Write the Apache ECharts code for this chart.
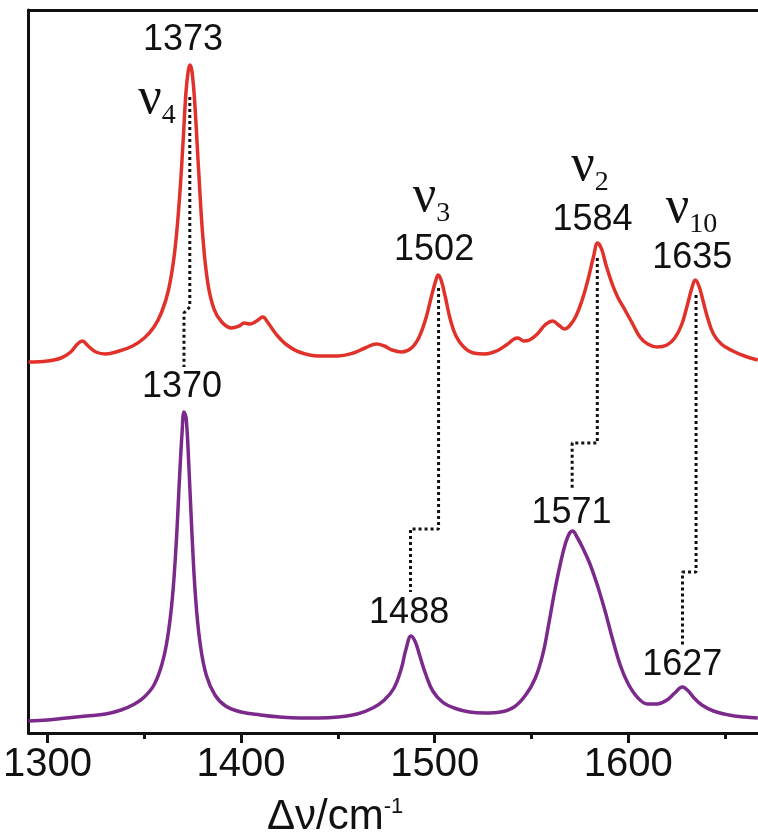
<!DOCTYPE html>
<html lang="en" style="height: 100%">
   <head>
      <meta charset="utf-8">
   </head>
   <body style="height: 100%; margin: 0">
      <div id="container" style="width: 758px; height: 838px"></div>
      <script type="text/javascript" src="https://fastly.jsdelivr.net/npm/echarts@6/dist/echarts.min.js"></script>
      <script type="text/javascript">
// Raman spectra, wavenumber (cm-1) vs intensity (a.u., red trace offset upward)
var redSpectrum = [
  [1290.2, 371], [1300, 372], [1307, 375], [1312, 381], [1315.5, 389], [1318, 392], [1321, 387],
  [1325, 381], [1330, 379], [1337, 382], [1344, 387], [1350, 395], [1355, 406], [1359, 421],
  [1362.5, 443], [1365.5, 478], [1368, 530], [1370, 590], [1371.5, 640], [1372.7, 662],
  [1373.6, 668], [1374.6, 662], [1376, 632], [1378, 565], [1380.3, 495], [1382.8, 450],
  [1386, 424], [1390, 411], [1395, 405], [1399, 407], [1401.5, 410], [1404.5, 409], [1408, 412],
  [1411.2, 416], [1414, 410], [1418, 399], [1423, 389], [1430, 381], [1440, 377], [1450, 377],
  [1458, 380], [1464, 385], [1470, 389], [1474, 387], [1478, 383], [1483, 381], [1488, 385],
  [1492, 396], [1495.5, 415], [1498.5, 438], [1500.5, 452], [1501.8, 458], [1503.3, 453],
  [1505.5, 436], [1508, 414], [1511, 397], [1515, 386], [1520, 380], [1526, 379], [1532, 382],
  [1537, 388], [1541, 394], [1543, 395], [1546, 392], [1549, 393], [1553, 399], [1557, 408],
  [1561, 412], [1564, 408], [1567, 404], [1570, 408], [1573, 417], [1576, 432], [1579, 452],
  [1582, 476], [1584.2, 490], [1586.2, 484], [1588.5, 468], [1591.5, 450], [1594.5, 436],
  [1598, 424], [1602, 410], [1606, 396], [1610, 389], [1615, 386], [1620, 388], [1624, 395],
  [1627.5, 408], [1630.5, 428], [1633, 446], [1634.6, 453], [1636.5, 447], [1638.5, 433],
  [1641, 415], [1644, 399], [1648, 389], [1654, 382], [1660, 377], [1666.9, 373]
];
var purpleSpectrum = [
  [1290.2, 12], [1300, 13], [1310, 15], [1320, 17], [1330, 19], [1338, 23], [1345, 29],
  [1350, 36], [1355, 48], [1359, 68], [1362, 95], [1364.5, 135], [1366.5, 190], [1368.2, 255],
  [1369.5, 300], [1370.5, 321], [1371.6, 315], [1373, 268], [1374.6, 200], [1376.5, 135],
  [1378.8, 90], [1382, 58], [1386.5, 38], [1392, 27], [1400, 21], [1410, 18], [1420, 16],
  [1430, 15], [1440, 15], [1450, 16], [1460, 19], [1468, 25], [1474, 33], [1479, 45],
  [1482.7, 64], [1485.2, 84], [1487.8, 97], [1490, 91], [1492.5, 76], [1495.5, 58], [1499, 42],
  [1504, 31], [1510, 25], [1518, 21], [1526, 20], [1534, 21], [1541, 26], [1547, 38], [1552, 55],
  [1556, 80], [1559, 110], [1562, 142], [1565, 170], [1567.6, 190], [1569.7, 200], [1571.3, 202],
  [1573.5, 196], [1576.5, 185], [1580, 170], [1584, 148], [1588, 122], [1592, 93], [1596, 67],
  [1600, 49], [1605, 35], [1610, 29], [1615, 29], [1620, 33], [1624, 40], [1627.9, 46],
  [1631, 42], [1634, 35], [1638, 28], [1644, 22], [1652, 18], [1660, 16], [1666.9, 15]
];
// dotted connectors between matching modes
var linkV4 = [[1373.5, 636], [1373.5, 426], [1370.5, 420], [1370.5, 366]];
var linkV3 = [[1502, 445], [1502, 204], [1487.5, 204], [1487.5, 141]];
var linkV2 = [[1584, 475], [1584, 290], [1571, 290], [1571, 244]];
var linkV10 = [[1635, 438], [1635, 161], [1628, 161], [1628, 88]];
// peak position labels [x, y, text]
var peakLabels = [
  [1370.0, 693, '1373'], [1369.5, 346, '1370'], [1499.7, 483, '1502'], [1486.8, 120, '1488'],
  [1581.5, 513, '1584'], [1570.7, 220, '1571'], [1633.0, 475, '1635'], [1627.9, 68, '1627']
];
// mode labels [x, y, subscript]
var modeLabels = [[1356.6, 634, '4'], [1498.4, 536, '3'], [1580.2, 567, '2'], [1632.7, 525, '10']];
var majorTicks = [1300, 1400, 1500, 1600];
var minorTicks = [1350, 1450, 1550, 1650];

var dom = document.getElementById('container');
var myChart = echarts.init(dom, null, { renderer: 'canvas' });
var sans = 'Liberation Sans';
var serif = 'Liberation Serif';

function dotted(data) {
  return {
    type: 'line',
    data: data,
    showSymbol: false,
    silent: true,
    lineStyle: { color: '#111', width: 3, type: [3, 3] },
    z: 1
  };
}

var option = {
  animation: false,
  grid: { left: 26, right: 0, top: 10, bottom: 105 },
  xAxis: [{
      type: 'value',
      min: 1290.2,
      max: 1667,
      position: 'bottom',
      axisLine: { onZero: false, lineStyle: { color: '#111', width: 3 } },
      axisTick: { customValues: majorTicks, length: 10, lineStyle: { color: '#111', width: 3 } },
      axisLabel: {
        customValues: majorTicks,
        formatter: function (v) { return String(v); },
        margin: 12,
        fontSize: 40,
        fontFamily: sans,
        color: '#111'
      },
      splitLine: { show: false }
    },
    {
      type: 'value',
      min: 1290.2,
      max: 1667,
      position: 'bottom',
      axisLine: { show: false },
      axisTick: { customValues: minorTicks, length: 6, lineStyle: { color: '#111', width: 3 } },
      axisLabel: { show: false },
      splitLine: { show: false }
    },
    {
      type: 'value',
      min: 1290.2,
      max: 1667,
      position: 'top',
      axisLine: { onZero: false, lineStyle: { color: '#111', width: 3 } },
      axisTick: { show: false },
      axisLabel: { show: false },
      splitLine: { show: false }
    }
  ],
  yAxis: {
    type: 'value',
    min: 0,
    max: 723,
    axisLine: { show: true, onZero: false, lineStyle: { color: '#111', width: 3 } },
    axisTick: { show: false },
    axisLabel: { show: false },
    splitLine: { show: false }
  },
  graphic: [{
    type: 'text',
    left: 267,
    top: 796,
    style: {
      text: '{a|Δν/cm}{s|-1}',
      rich: {
        a: { fontSize: 42, fontFamily: sans, fill: '#111' },
        s: { fontSize: 22, fontFamily: sans, fill: '#111', verticalAlign: 'top' }
      }
    }
  }],
  series: [
    dotted(linkV4), dotted(linkV3), dotted(linkV2), dotted(linkV10),
    {
      type: 'line',
      data: redSpectrum,
      showSymbol: false,
      smooth: 0.4,
      lineStyle: { color: '#e0322a', width: 3.5 },
      z: 3
    },
    {
      type: 'line',
      data: purpleSpectrum,
      showSymbol: false,
      smooth: 0.4,
      lineStyle: { color: '#7b2a8c', width: 3.5 },
      z: 3
    },
    {
      type: 'scatter',
      data: peakLabels,
      symbolSize: 0,
      itemStyle: { opacity: 1 },
      label: {
        show: true,
        position: 'inside',
        formatter: function (p) { return p.data[2]; },
        fontSize: 36,
        fontFamily: sans,
        color: '#111'
      },
      z: 4
    },
    {
      type: 'scatter',
      data: modeLabels,
      symbolSize: 0,
      itemStyle: { opacity: 1 },
      label: {
        show: true,
        position: 'inside',
        formatter: function (p) { return '{nu|ν}{sub|' + p.data[2] + '}'; },
        rich: {
          nu: { fontSize: 52, fontFamily: serif, color: '#111', lineHeight: 56 },
          sub: { fontSize: 28, fontFamily: serif, color: '#111', lineHeight: 28, verticalAlign: 'top', padding: [31, 0, 0, 0] }
        }
      },
      z: 4
    }
  ]
};
myChart.setOption(option);
window.addEventListener('resize', myChart.resize);
      </script>
   </body>
</html>
